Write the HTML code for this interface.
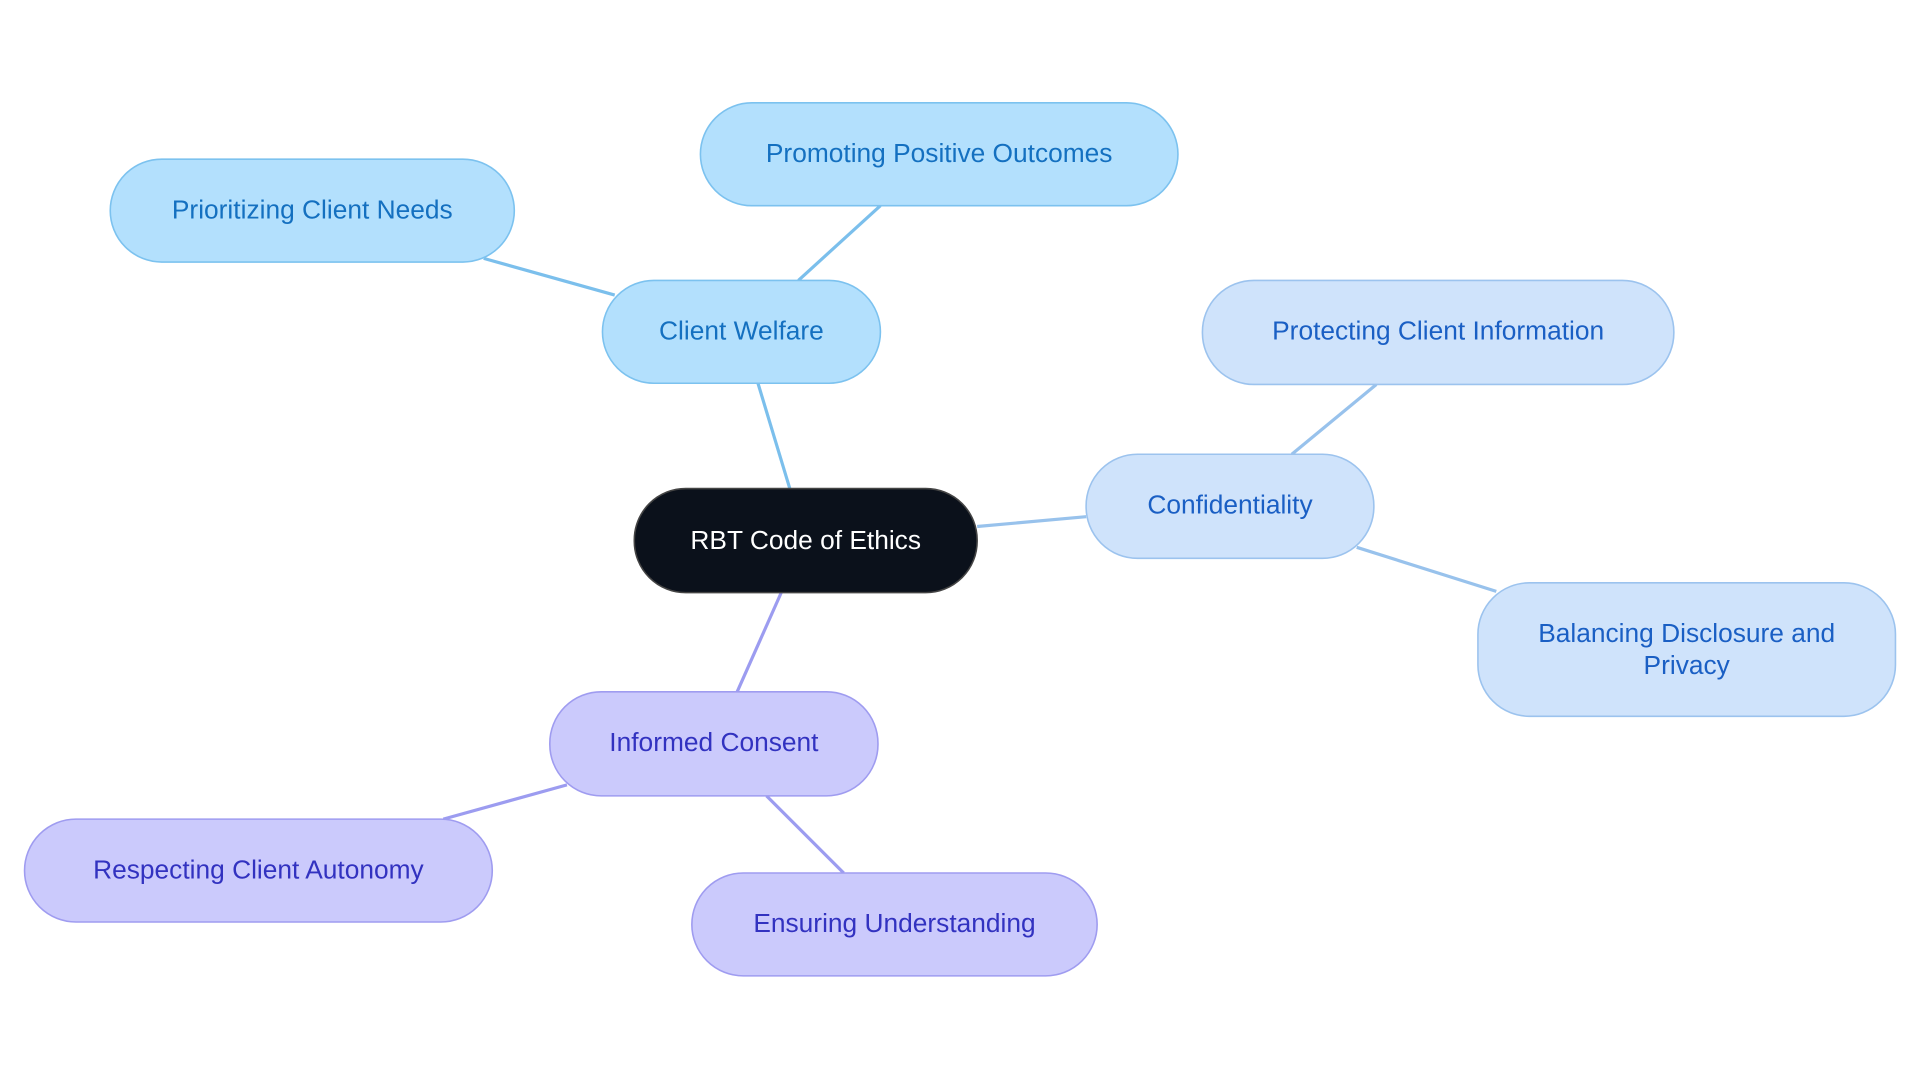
<!DOCTYPE html>
<html><head><meta charset="utf-8"><style>
html,body{margin:0;padding:0;background:#fff;width:1920px;height:1083px;overflow:hidden}
svg text{font-family:"Liberation Sans",sans-serif;font-size:21.5px;text-anchor:middle;dominant-baseline:central}
</style></head><body>
<svg width="1920" height="1083" viewBox="0 0 1568 884.5" xmlns="http://www.w3.org/2000/svg">
<g stroke-width="2.6" fill="none">
<line x1="645" y1="399" x2="619" y2="313" stroke="#7bbfec"/>
<line x1="652" y1="229" x2="719" y2="168" stroke="#7bbfec"/>
<line x1="502" y1="241" x2="395" y2="211" stroke="#7bbfec"/>
<line x1="798" y1="430" x2="887" y2="422" stroke="#98c2ec"/>
<line x1="1055" y1="371" x2="1124" y2="314" stroke="#98c2ec"/>
<line x1="1108" y1="447" x2="1222" y2="483" stroke="#98c2ec"/>
<line x1="638" y1="484" x2="602" y2="565" stroke="#9c9cf0"/>
<line x1="463" y1="641" x2="362" y2="669" stroke="#9c9cf0"/>
<line x1="626" y1="650" x2="689" y2="713" stroke="#9c9cf0"/>
</g>
<g stroke-width="1.3">
<rect x="518" y="399" width="280" height="85" rx="42" fill="#0b111b" stroke="#444"/>
<rect x="492" y="229" width="227" height="84" rx="42" fill="#b3e0fd" stroke="#7cc2ef"/>
<rect x="572" y="84" width="390" height="84" rx="42" fill="#b3e0fd" stroke="#7cc2ef"/>
<rect x="90" y="130" width="330" height="84" rx="42" fill="#b3e0fd" stroke="#7cc2ef"/>
<rect x="887" y="371" width="235" height="85" rx="42" fill="#cfe3fb" stroke="#9cc3ee"/>
<rect x="982" y="229" width="385" height="85" rx="42" fill="#cfe3fb" stroke="#9cc3ee"/>
<rect x="1207" y="476" width="341" height="109" rx="42" fill="#cfe3fb" stroke="#9cc3ee"/>
<rect x="449" y="565" width="268" height="85" rx="42" fill="#cbcafc" stroke="#9f9cf0"/>
<rect x="20" y="669" width="382" height="84" rx="42" fill="#cbcafc" stroke="#9f9cf0"/>
<rect x="565" y="713" width="331" height="84" rx="42" fill="#cbcafc" stroke="#9f9cf0"/>
</g>
<text x="658" y="441" fill="#ffffff">RBT Code of Ethics</text>
<g fill="#1470c0">
<text x="605.5" y="270">Client Welfare</text>
<text x="767" y="125">Promoting Positive Outcomes</text>
<text x="255" y="171">Prioritizing Client Needs</text>
</g>
<g fill="#1a5fc4">
<text x="1004.5" y="412">Confidentiality</text>
<text x="1174.5" y="270">Protecting Client Information</text>
<text x="1377.5" y="517">Balancing Disclosure and</text>
<text x="1377.5" y="543">Privacy</text>
</g>
<g fill="#3232c0">
<text x="583" y="606">Informed Consent</text>
<text x="211" y="710">Respecting Client Autonomy</text>
<text x="730.5" y="754">Ensuring Understanding</text>
</g>
</svg>
</body></html>
